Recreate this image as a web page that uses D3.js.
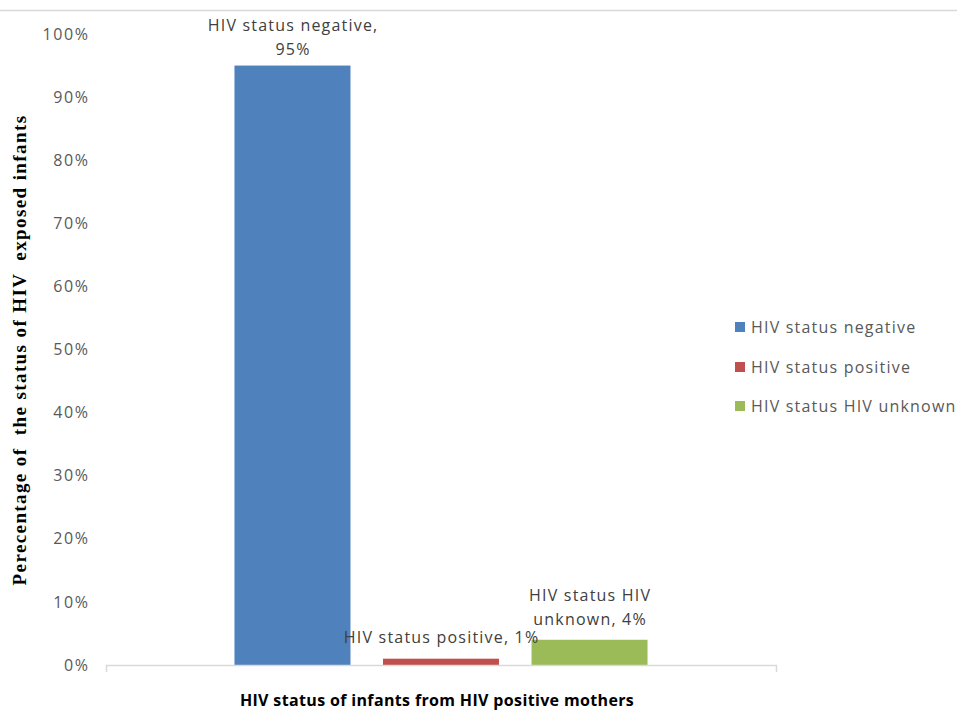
<!DOCTYPE html>
<html>
<head>
<meta charset="utf-8">
<script src="https://cdn.jsdelivr.net/npm/d3@7"></script>
<style>
  html, body { margin: 0; padding: 0; background: #fff; }
  svg { display: block; }
</style>
</head>
<body>
<svg id="chart" width="957" height="711"></svg>
<script>
const categories = ["HIV status of infants from HIV positive mothers"];
const seriesNames = ["HIV status negative", "HIV status positive", "HIV status HIV unknown"];
const seriesValues = [0.95, 0.01, 0.04];
const dataLabels = [["HIV status negative,", "95%"], ["HIV status positive, 1%"], ["HIV status HIV", "unknown, 4%"]];
const yTicks = [0, 0.1, 0.2, 0.3, 0.4, 0.5, 0.6, 0.7, 0.8, 0.9, 1.0];
const colors = ["#4F81BD", "#C0504D", "#9BBB59"];

const svg = d3.select("#chart");
const W = 957, H = 711;
const plot = { left: 106, right: 776, top: 34, bottom: 665 };
const font = "'Open Sans', 'DejaVu Sans', sans-serif";
const ls = "1.2px";
const fs = 16;

// top border
svg.append("line").attr("x1", 0).attr("x2", W).attr("y1", 10.5).attr("y2", 10.5)
  .attr("stroke", "#d9d9d9").attr("stroke-width", 1.5);

const y = d3.scaleLinear().domain([0, 1]).range([plot.bottom, plot.top]);
const x0 = d3.scaleBand().domain(categories).range([plot.left, plot.right]).paddingInner(0).paddingOuter(0.311);
const x1 = d3.scaleBand().domain(seriesNames).range([0, x0.bandwidth()]).paddingInner(0.219).paddingOuter(0);

// y axis labels
const yAxis = d3.axisLeft(y).tickValues(yTicks).tickFormat(d3.format(".0%")).tickSize(0).tickPadding(18);
const gy = svg.append("g").attr("transform", `translate(${plot.left},0)`).call(yAxis);
gy.select(".domain").remove();
gy.selectAll("text").attr("font-family", font).attr("font-size", fs).attr("fill", "#595959")
  .style("letter-spacing", "1.6px").attr("dx", 1.6);

// bars
const g = svg.append("g").attr("transform", `translate(${x0(categories[0])},0)`);
g.selectAll("rect").data(seriesNames).join("rect")
  .attr("x", d => x1(d))
  .attr("width", x1.bandwidth())
  .attr("y", (d, i) => y(seriesValues[i]))
  .attr("height", (d, i) => y(0) - y(seriesValues[i]))
  .attr("fill", (d, i) => colors[i]);

// x axis baseline
const xAxis = d3.axisBottom(x0).tickValues([]).tickSizeOuter(7);
const gx = svg.append("g").attr("transform", `translate(0,${plot.bottom})`).call(xAxis);
gx.select(".domain").attr("stroke", "#d9d9d9").attr("stroke-width", 1.5);

// data labels
const lh = 24;
const labelGap = [11, 16, 15];
g.selectAll("text.lbl").data(seriesNames).join("text")
  .attr("class", "lbl")
  .attr("text-anchor", "middle")
  .attr("font-family", font).attr("font-size", fs).attr("fill", "#404040")
  .style("letter-spacing", ls)
  .each(function(d, i) {
    const lines = dataLabels[i];
    const cx = x1(d) + x1.bandwidth() / 2 + 0.6;
    const baseY = y(seriesValues[i]) - labelGap[i] - (lines.length - 1) * lh;
    const t = d3.select(this);
    lines.forEach((ln, k) => {
      t.append("tspan").attr("x", cx).attr("y", baseY + k * lh).text(ln);
    });
  });

// x axis title
svg.append("text").attr("x", (plot.left + plot.right) / 2 - 4).attr("y", 706)
  .attr("text-anchor", "middle").attr("font-family", font).attr("font-weight", "bold")
  .attr("font-size", 16).style("letter-spacing", "0.35px").attr("fill", "#000").text(categories[0]);

// y axis title
svg.append("text").attr("transform", `translate(26,${350}) rotate(-90)`)
  .attr("text-anchor", "middle").attr("font-family", "'Liberation Serif', 'DejaVu Serif', serif")
  .attr("font-weight", "bold").attr("font-size", 19).attr("fill", "#000")
  .style("letter-spacing", "1.4px")
  .attr("xml:space", "preserve")
  .text("Perecentage of  the status of HIV  exposed infants");

// legend
const legend = svg.append("g").attr("transform", "translate(735,0)");
const legY = [327, 367, 406];
seriesNames.forEach((s, i) => {
  legend.append("rect").attr("x", 0).attr("y", legY[i] - 5).attr("width", 10).attr("height", 10).attr("fill", colors[i]);
  legend.append("text").attr("x", 16).attr("y", legY[i]).attr("dy", "0.35em")
    .attr("font-family", font).attr("font-size", fs).attr("fill", "#595959")
    .style("letter-spacing", ls).text(s);
});
</script>
</body>
</html>
